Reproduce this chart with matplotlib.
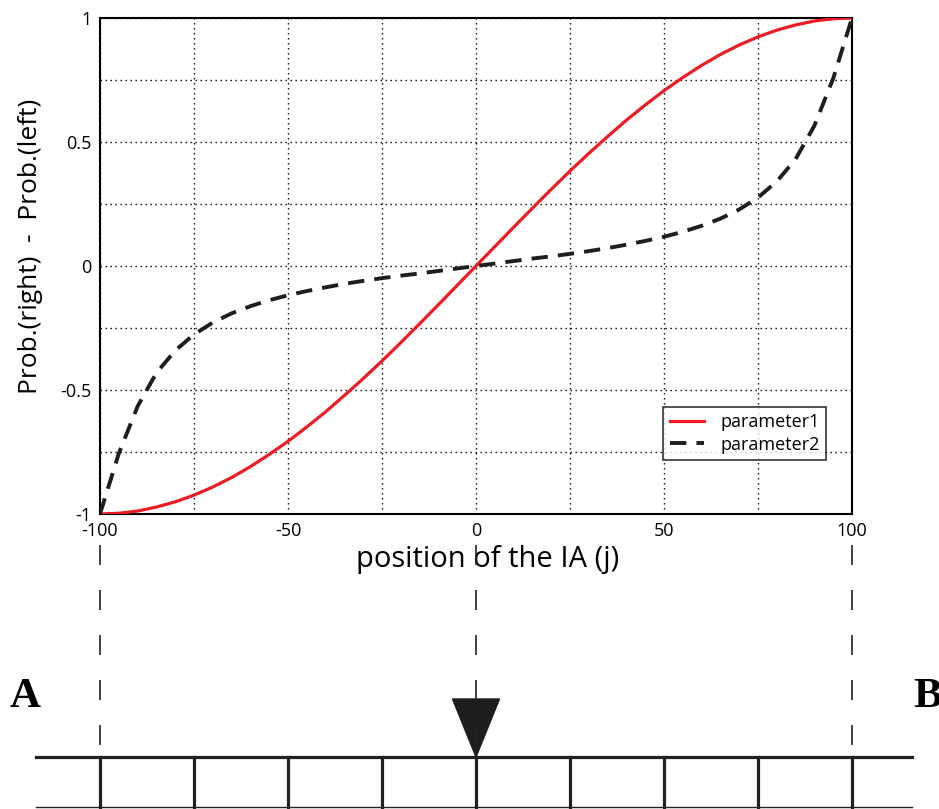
import matplotlib

matplotlib.use("Agg")
import matplotlib.pyplot as plt
from matplotlib.patches import Polygon

plt.rcParams["font.family"] = ["Open Sans", "DejaVu Sans"]

# position of the IA (j), sampled every 5 units
POSITIONS = list(range(-100, 101, 5))

# parameter1: smooth S curve (right half, odd symmetric)
P1_RIGHT = [0.0, 0.078, 0.156, 0.233, 0.309, 0.383, 0.454, 0.522, 0.588, 0.649, 0.707,
            0.760, 0.809, 0.853, 0.891, 0.924, 0.951, 0.972, 0.988, 0.997, 1.0]
# parameter2: flat in the middle, steep near the ends (dashed line)
P2_RIGHT = [0.0, 0.010, 0.020, 0.030, 0.039, 0.049, 0.060, 0.072, 0.086, 0.101, 0.118,
            0.138, 0.162, 0.191, 0.228, 0.276, 0.341, 0.431, 0.566, 0.756, 1.0]

PARAM1 = [-v for v in P1_RIGHT[:0:-1]] + P1_RIGHT
PARAM2 = [-v for v in P2_RIGHT[:0:-1]] + P2_RIGHT

GRID_X = list(range(-100, 101, 25))
GRID_Y = [-1, -0.75, -0.5, -0.25, 0, 0.25, 0.5, 0.75, 1]
X_LABELS = ["-100", "", "-50", "", "0", "", "50", "", "100"]
Y_LABELS = ["-1", "", "-0.5", "", "0", "", "0.5", "", "1"]

# lower sketch: connector lines, track cells, end labels
CONNECTORS = [-100, 0, 100]
TRACK_TICKS = GRID_X
TRACK_SPAN = [-117, 116]
ENDS = {"A": -120, "B": 120}
IA_POS = 0

W, H = 939, 809
fig = plt.figure(figsize=(W / 100, H / 100), dpi=100)

# main chart
ax = fig.add_axes([100 / W, 1 - 514 / H, 752 / W, 496 / H])
ax.plot(POSITIONS, PARAM1, color="#ED1C24", lw=2.3, label="parameter1",
        solid_joinstyle="round", zorder=3)
ax.plot(POSITIONS, PARAM2, color="#1e1e1e", lw=2.8, dashes=(4.2, 2.6),
        dash_joinstyle="round", label="parameter2", zorder=3)
ax.set_xlim(-100, 100)
ax.set_ylim(-1, 1)
ax.set_xticks(GRID_X)
ax.set_xticklabels(X_LABELS)
ax.set_yticks(GRID_Y)
ax.set_yticklabels(Y_LABELS)
ax.tick_params(length=0, labelsize=13, pad=6)
ax.tick_params(axis="x", pad=6)
ax.grid(True, color="black", lw=1.0, linestyle=(0, (1, 2.6)))
for s in ax.spines.values():
    s.set_linewidth(1.5)
ax.set_xlabel("position of the IA (j)", fontsize=21)
ax.xaxis.set_label_coords(0.516, -0.092)
ax.xaxis.label.set_va("center")
ax.set_ylabel("Prob.(right)  -  Prob.(left)", fontsize=19)
ax.yaxis.set_label_coords(-0.076, 0.540)
leg = ax.legend(loc="upper left", bbox_to_anchor=(0.749, 0.216), borderaxespad=0,
                fontsize=13, frameon=True, fancybox=False, handlelength=1.9,
                borderpad=0.35, labelspacing=0.25, handletextpad=0.9)
leg.get_frame().set_edgecolor("black")
leg.get_frame().set_linewidth(1.2)

# lower sketch sharing the same x scale
bx = fig.add_axes([100 / W, 0, 752 / W, 295 / H])
bx.set_xlim(-100, 100)
bx.set_ylim(809, 514)
bx.axis("off")

for xc in CONNECTORS:
    bx.plot([xc, xc], [545, 757], color="#222222", lw=1.2, dashes=(12, 15), clip_on=False)

bx.plot(TRACK_SPAN, [757, 757], color="#222222", lw=2.3, clip_on=False)
bx.plot(TRACK_SPAN, [807, 807], color="#222222", lw=1.0, clip_on=False)
for xt in TRACK_TICKS:
    bx.plot([xt, xt], [757, 807], color="#222222", lw=2.3, clip_on=False)

tri = Polygon([[IA_POS - 6.25, 699], [IA_POS + 6.25, 699], [IA_POS, 757]],
              closed=True, color="#1e1e1e", clip_on=False)
bx.add_patch(tri)

for name, xp in ENDS.items():
    bx.text(xp, 697, name, family="Liberation Serif", fontweight="bold", fontsize=31,
            ha="center", va="center", clip_on=False)

fig.savefig("out.png", dpi=100)
